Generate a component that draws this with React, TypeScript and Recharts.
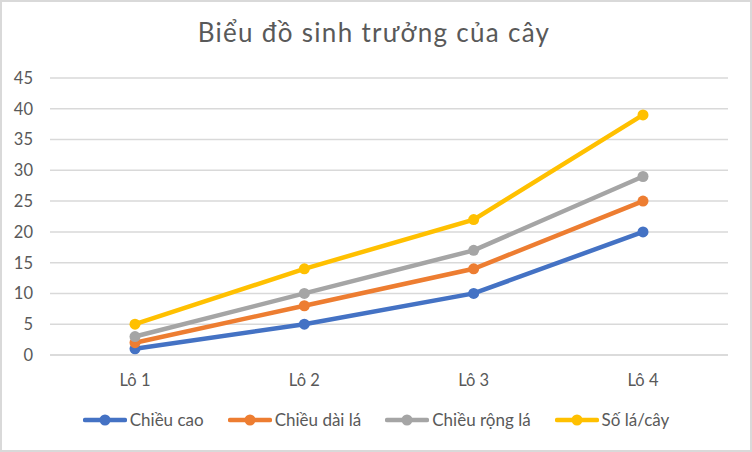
import React from "react";
import { LineChart, Line, XAxis, YAxis, CartesianGrid, Legend } from "recharts";

const categories = ["Lô 1", "Lô 2", "Lô 3", "Lô 4"];
const chieuCao = [1, 5, 10, 20];
const chieuDaiLa = [2, 8, 14, 25];
const chieuRongLa = [3, 10, 17, 29];
const soLaCay = [5, 14, 22, 39];
const yTicks = [0, 5, 10, 15, 20, 25, 30, 35, 40, 45];

const series = [
  { key: "cao", name: "Chiều cao", values: chieuCao, color: "#4472C4" },
  { key: "dai", name: "Chiều dài lá", values: chieuDaiLa, color: "#ED7D31" },
  { key: "rong", name: "Chiều rộng lá", values: chieuRongLa, color: "#A5A5A5" },
  { key: "so", name: "Số lá/cây", values: soLaCay, color: "#FFC000" },
];

const data = categories.map((c, i) => {
  const row: Record<string, any> = { name: c };
  series.forEach((s) => (row[s.key] = s.values[i]));
  return row;
});

const FONT = "Lato, 'Open Sans', sans-serif";

const LegendContent = () => (
  <div style={{ display: "flex", justifyContent: "center", alignItems: "center", fontFamily: FONT, fontSize: 17, color: "#595959" }}>
    {series.map((s, i) => (
      <div key={s.key} style={{ display: "flex", alignItems: "center", marginRight: i < series.length - 1 ? 24 : 0 }}>
        <svg width={44} height={14} style={{ marginRight: 3 }}>
          <line x1={2} y1={7} x2={42} y2={7} stroke={s.color} strokeWidth={4.5} strokeLinecap="round" />
          <circle cx={22} cy={7} r={5.5} fill={s.color} />
        </svg>
        <span>{s.name}</span>
      </div>
    ))}
  </div>
);

export default function App() {
  return (
    <div style={{ position: "absolute", left: 0, top: 0, width: 752, height: 452, background: "#fff" }}>
      <div style={{ position: "absolute", left: 0, top: 0, width: 752, height: 452, boxSizing: "border-box", border: "2px solid #d9d9d9", pointerEvents: "none", zIndex: 2 }} />
      <div style={{ position: "absolute", left: 0, top: 16, width: 752, textAlign: "center", fontFamily: FONT, fontSize: 26, letterSpacing: 1.3, color: "#595959" }}>
        <span style={{ position: "relative", left: -2 }}>Biểu đồ sinh trưởng của cây</span>
      </div>
      <LineChart width={752} height={452} data={data} margin={{ top: 78, right: 24, left: 0, bottom: 67 }}>
        <CartesianGrid vertical={false} stroke="#d9d9d9" strokeWidth={1.5} />
        <XAxis
          dataKey="name"
          height={30}
          padding={{ left: 85, right: 85 }}
          axisLine={{ stroke: "#d9d9d9", strokeWidth: 1.5 }}
          tickLine={false}
          tickMargin={13}
          tick={{ fill: "#595959", fontSize: 16.5, fontFamily: FONT }}
        />
        <YAxis
          width={50}
          domain={[0, 45]}
          ticks={yTicks}
          axisLine={false}
          tickLine={false}
          tickMargin={11}
          tick={{ fill: "#595959", fontSize: 16.5, fontFamily: FONT }}
        />
        <Legend
          layout="horizontal"
          verticalAlign="middle"
          align="center"
          wrapperStyle={{ position: "absolute", top: 409, left: 0, width: 752 }}
          content={<LegendContent />}
        />
        {series.map((s) => (
          <Line
            key={s.key}
            dataKey={s.key}
            name={s.name}
            stroke={s.color}
            strokeWidth={4.5}
            dot={{ r: 5.5, fill: s.color, stroke: s.color, strokeWidth: 0 }}
            activeDot={false}
            isAnimationActive={false}
          />
        ))}
      </LineChart>
    </div>
  );
}
